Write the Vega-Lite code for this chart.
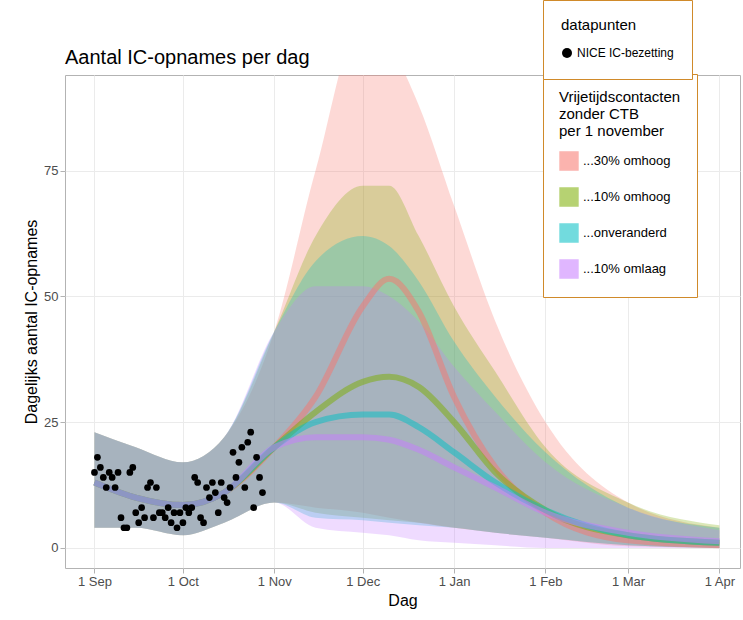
{
  "$schema": "https://vega.github.io/schema/vega-lite/v6.json",
  "width": 675,
  "height": 493,
  "autosize": "none",
  "padding": {"left": 65, "top": 75, "right": 3, "bottom": 52},
  "title": {"text": "Aantal IC-opnames per dag", "anchor": "start", "fontSize": 20, "fontWeight": "normal", "font": "Liberation Sans", "frame": "group", "offset": -68},
  "config": {
    "font": "Liberation Sans",
    "view": {"stroke": "#b3b3b3"},
    "axis": {"gridColor": "#ebebeb", "domain": false, "tickColor": "#b3b3b3", "labelFontSize": 13, "labelColor": "#4d4d4d", "titleFontSize": 16, "titleFontWeight": "normal", "titleColor": "#000"},
    "legend": {"labelFontSize": 12, "titleFontSize": 15, "titleFontWeight": "normal", "strokeColor": "#d08a2a", "padding": 14, "fillColor": "white"}
  },
  "datasets": {
    "bands": [
      {"d": "2020-09-01", "s": "...30% omhoog", "mid": 13, "lo": 4, "hi": 23},
      {"d": "2020-09-15", "s": "...30% omhoog", "mid": 10, "lo": 4, "hi": 20},
      {"d": "2020-10-01", "s": "...30% omhoog", "mid": 8.5, "lo": 2.5, "hi": 17},
      {"d": "2020-10-15", "s": "...30% omhoog", "mid": 11, "lo": 5, "hi": 22},
      {"d": "2020-11-01", "s": "...30% omhoog", "mid": 20, "lo": 9, "hi": 43},
      {"d": "2020-11-15", "s": "...30% omhoog", "mid": 30, "lo": 8, "hi": 75},
      {"d": "2020-12-01", "s": "...30% omhoog", "mid": 48, "lo": 7, "hi": 105},
      {"d": "2020-12-10", "s": "...30% omhoog", "mid": 53.5, "lo": 6, "hi": 100},
      {"d": "2020-12-20", "s": "...30% omhoog", "mid": 47, "lo": 5, "hi": 88},
      {"d": "2021-01-01", "s": "...30% omhoog", "mid": 30, "lo": 4, "hi": 68},
      {"d": "2021-01-15", "s": "...30% omhoog", "mid": 16, "lo": 3, "hi": 45},
      {"d": "2021-02-01", "s": "...30% omhoog", "mid": 7, "lo": 2, "hi": 25},
      {"d": "2021-03-01", "s": "...30% omhoog", "mid": 1.5, "lo": 0.3, "hi": 9},
      {"d": "2021-04-01", "s": "...30% omhoog", "mid": 0.5, "lo": 0, "hi": 4},
      {"d": "2020-09-01", "s": "...10% omhoog", "mid": 13, "lo": 4, "hi": 23},
      {"d": "2020-09-15", "s": "...10% omhoog", "mid": 10, "lo": 4, "hi": 20},
      {"d": "2020-10-01", "s": "...10% omhoog", "mid": 8.5, "lo": 2.5, "hi": 17},
      {"d": "2020-10-15", "s": "...10% omhoog", "mid": 11, "lo": 5, "hi": 22},
      {"d": "2020-11-01", "s": "...10% omhoog", "mid": 20, "lo": 9, "hi": 43},
      {"d": "2020-11-15", "s": "...10% omhoog", "mid": 27, "lo": 7, "hi": 62},
      {"d": "2020-12-01", "s": "...10% omhoog", "mid": 33, "lo": 6, "hi": 72},
      {"d": "2020-12-10", "s": "...10% omhoog", "mid": 34, "lo": 5.5, "hi": 72},
      {"d": "2020-12-20", "s": "...10% omhoog", "mid": 32, "lo": 5, "hi": 62},
      {"d": "2021-01-01", "s": "...10% omhoog", "mid": 25, "lo": 4, "hi": 48},
      {"d": "2021-01-15", "s": "...10% omhoog", "mid": 15, "lo": 3, "hi": 35},
      {"d": "2021-02-01", "s": "...10% omhoog", "mid": 7.5, "lo": 2, "hi": 20},
      {"d": "2021-03-01", "s": "...10% omhoog", "mid": 2.5, "lo": 0.5, "hi": 9},
      {"d": "2021-04-01", "s": "...10% omhoog", "mid": 1, "lo": 0, "hi": 4.5},
      {"d": "2020-09-01", "s": "...onveranderd", "mid": 13, "lo": 4, "hi": 23},
      {"d": "2020-09-15", "s": "...onveranderd", "mid": 10, "lo": 4, "hi": 20},
      {"d": "2020-10-01", "s": "...onveranderd", "mid": 8.5, "lo": 2.5, "hi": 17},
      {"d": "2020-10-15", "s": "...onveranderd", "mid": 11, "lo": 5, "hi": 22},
      {"d": "2020-11-01", "s": "...onveranderd", "mid": 20, "lo": 9, "hi": 43},
      {"d": "2020-11-15", "s": "...onveranderd", "mid": 25, "lo": 6, "hi": 57},
      {"d": "2020-12-01", "s": "...onveranderd", "mid": 26.5, "lo": 5.5, "hi": 62},
      {"d": "2020-12-10", "s": "...onveranderd", "mid": 26.5, "lo": 5, "hi": 60},
      {"d": "2020-12-20", "s": "...onveranderd", "mid": 24, "lo": 4.5, "hi": 53},
      {"d": "2021-01-01", "s": "...onveranderd", "mid": 19, "lo": 4, "hi": 41},
      {"d": "2021-01-15", "s": "...onveranderd", "mid": 13, "lo": 3, "hi": 30},
      {"d": "2021-02-01", "s": "...onveranderd", "mid": 7.5, "lo": 2, "hi": 19},
      {"d": "2021-03-01", "s": "...onveranderd", "mid": 2.5, "lo": 0.5, "hi": 8},
      {"d": "2021-04-01", "s": "...onveranderd", "mid": 1, "lo": 0, "hi": 4},
      {"d": "2020-09-01", "s": "...10% omlaag", "mid": 13, "lo": 4, "hi": 23},
      {"d": "2020-09-15", "s": "...10% omlaag", "mid": 10, "lo": 4, "hi": 20},
      {"d": "2020-10-01", "s": "...10% omlaag", "mid": 8.5, "lo": 2.5, "hi": 17},
      {"d": "2020-10-15", "s": "...10% omlaag", "mid": 11, "lo": 5, "hi": 22},
      {"d": "2020-11-01", "s": "...10% omlaag", "mid": 20, "lo": 9, "hi": 43},
      {"d": "2020-11-15", "s": "...10% omlaag", "mid": 22, "lo": 4, "hi": 52},
      {"d": "2020-12-01", "s": "...10% omlaag", "mid": 22, "lo": 3, "hi": 52},
      {"d": "2020-12-10", "s": "...10% omlaag", "mid": 21.5, "lo": 2.5, "hi": 50},
      {"d": "2020-12-20", "s": "...10% omlaag", "mid": 19.5, "lo": 1.5, "hi": 45},
      {"d": "2021-01-01", "s": "...10% omlaag", "mid": 16, "lo": 1, "hi": 36},
      {"d": "2021-01-15", "s": "...10% omlaag", "mid": 12, "lo": 0.5, "hi": 27},
      {"d": "2021-02-01", "s": "...10% omlaag", "mid": 7, "lo": 0, "hi": 17},
      {"d": "2021-03-01", "s": "...10% omlaag", "mid": 3, "lo": 0, "hi": 8},
      {"d": "2021-04-01", "s": "...10% omlaag", "mid": 1.3, "lo": 0, "hi": 3.5}
    ],
    "pts": [
      {"d": "2020-09-01", "v": 15}, {"d": "2020-09-02", "v": 18}, {"d": "2020-09-03", "v": 16}, {"d": "2020-09-04", "v": 14},
      {"d": "2020-09-05", "v": 12}, {"d": "2020-09-06", "v": 15}, {"d": "2020-09-07", "v": 14}, {"d": "2020-09-08", "v": 12},
      {"d": "2020-09-09", "v": 15}, {"d": "2020-09-10", "v": 6}, {"d": "2020-09-11", "v": 4}, {"d": "2020-09-12", "v": 4},
      {"d": "2020-09-13", "v": 15}, {"d": "2020-09-14", "v": 16}, {"d": "2020-09-15", "v": 7}, {"d": "2020-09-16", "v": 5},
      {"d": "2020-09-17", "v": 8}, {"d": "2020-09-18", "v": 6}, {"d": "2020-09-19", "v": 12}, {"d": "2020-09-20", "v": 13},
      {"d": "2020-09-21", "v": 6}, {"d": "2020-09-22", "v": 12}, {"d": "2020-09-23", "v": 7}, {"d": "2020-09-24", "v": 7},
      {"d": "2020-09-25", "v": 6}, {"d": "2020-09-26", "v": 8}, {"d": "2020-09-27", "v": 5}, {"d": "2020-09-28", "v": 7},
      {"d": "2020-09-29", "v": 4}, {"d": "2020-09-30", "v": 7}, {"d": "2020-10-01", "v": 5}, {"d": "2020-10-02", "v": 8},
      {"d": "2020-10-03", "v": 7}, {"d": "2020-10-04", "v": 8}, {"d": "2020-10-05", "v": 14}, {"d": "2020-10-06", "v": 13},
      {"d": "2020-10-07", "v": 6}, {"d": "2020-10-08", "v": 5}, {"d": "2020-10-09", "v": 12}, {"d": "2020-10-10", "v": 10},
      {"d": "2020-10-11", "v": 13}, {"d": "2020-10-12", "v": 11}, {"d": "2020-10-13", "v": 7}, {"d": "2020-10-14", "v": 13},
      {"d": "2020-10-15", "v": 10}, {"d": "2020-10-16", "v": 9}, {"d": "2020-10-17", "v": 12}, {"d": "2020-10-18", "v": 19},
      {"d": "2020-10-19", "v": 14}, {"d": "2020-10-20", "v": 17}, {"d": "2020-10-21", "v": 20}, {"d": "2020-10-22", "v": 12},
      {"d": "2020-10-23", "v": 21}, {"d": "2020-10-24", "v": 23}, {"d": "2020-10-25", "v": 8}, {"d": "2020-10-26", "v": 18},
      {"d": "2020-10-27", "v": 14}, {"d": "2020-10-28", "v": 11}
    ]
  },
  "layer": [
    {
      "data": {"name": "bands"},
      "mark": {"type": "area", "opacity": 0.28, "interpolate": "monotone", "clip": true},
      "encoding": {
        "x": {"field": "d", "type": "temporal", "title": "Dag",
          "scale": {"domain": ["2020-08-22", "2021-04-08"]},
          "axis": {"format": "%-d %b", "labelAngle": 0, "tickCount": {"interval": "month", "step": 1}}},
        "y": {"field": "lo", "type": "quantitative", "title": "Dagelijks aantal IC-opnames",
          "scale": {"domain": [-4, 94], "nice": false},
          "axis": {"values": [0, 25, 50, 75]}},
        "y2": {"field": "hi"},
        "color": {"field": "s", "type": "nominal",
          "scale": {"domain": ["...30% omhoog", "...10% omhoog", "...onveranderd", "...10% omlaag"], "range": ["#F8766D", "#7CAE00", "#00BFC4", "#C77CFF"]},
          "legend": {"title": ["Vrijetijdscontacten", " zonder CTB", " per 1 november"], "orient": "none", "legendX": 478, "legendY": -1, "symbolType": "square", "symbolSize": 320, "symbolOpacity": 0.55, "rowPadding": 12, "labelFontSize": 13, "titlePadding": 12, "padding": 16}}
      }
    },
    {
      "data": {"name": "bands"},
      "mark": {"type": "line", "opacity": 0.5, "strokeWidth": 6, "interpolate": "monotone", "clip": true},
      "encoding": {
        "x": {"field": "d", "type": "temporal"},
        "y": {"field": "mid", "type": "quantitative"},
        "color": {"field": "s", "type": "nominal", "legend": null}
      }
    },
    {
      "data": {"name": "pts"},
      "mark": {"type": "point", "filled": true, "color": "black", "size": 45, "opacity": 1},
      "encoding": {
        "x": {"field": "d", "type": "temporal"},
        "y": {"field": "v", "type": "quantitative"},
        "shape": {"datum": "NICE IC-bezetting", "scale": {"range": ["circle"]},
          "legend": {"title": "datapunten", "orient": "none", "legendX": 478, "legendY": -75, "padding": 18, "titlePadding": 14, "symbolFillColor": "black", "symbolStrokeColor": "black"}}
      }
    }
  ]
}
